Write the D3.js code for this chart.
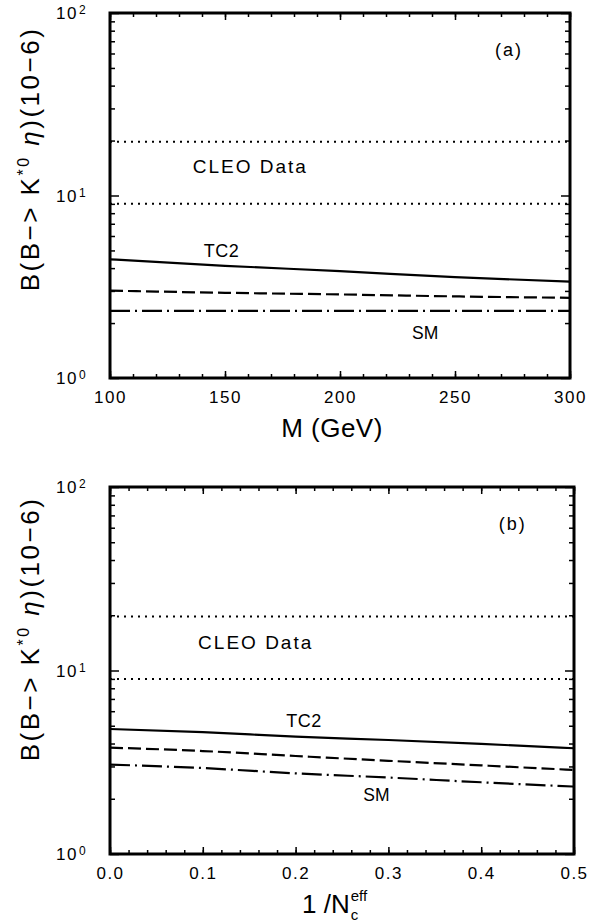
<!DOCTYPE html>
<html>
<head>
<meta charset="utf-8">
<script src="https://cdn.jsdelivr.net/npm/d3@7"></script>
<style>
  body { margin: 0; background: #fff; }
  text { font-family: "Liberation Sans", Arial, sans-serif; fill: #000; font-weight: normal; }
</style>
</head>
<body>
<div id="chart"></div>
<script>
// panel (a): vs M (GeV)
var massGeV = [100, 150, 200, 250, 300]
var tc2M    = [4.47, 4.12, 3.85, 3.57, 3.37]
var dashM   = [3.01, 2.93, 2.87, 2.80, 2.75]
var smM     = [2.33, 2.33, 2.33, 2.33, 2.33]

// panel (b): vs 1/Nc_eff
var invNc   = [0, 0.1, 0.2, 0.3, 0.4, 0.5]
var tc2N    = [4.80, 4.61, 4.36, 4.18, 3.98, 3.77]
var dashN   = [3.80, 3.64, 3.42, 3.22, 3.04, 2.87]
var smN     = [3.07, 2.94, 2.75, 2.61, 2.46, 2.33]

// CLEO band (upper, lower)
var cleo = [19.7, 9.0]

var massTicks = [100, 150, 200, 250, 300]
var nTicks = [0, 0.1, 0.2, 0.3, 0.4, 0.5]
var yTickExp = [0, 1, 2]

var svg = d3.select('#chart').append('svg')
  .attr('width', 610)
  .attr('height', 924)

function drawPanel(p) {
  var x = d3.scaleLinear().domain(p.xDomain).range([p.left, p.right])
  var y = d3.scaleLog().domain([1, 100]).range([p.bottom, p.top])
  var g = svg.append('g')

  var line = (ys) => d3.line()
    .x((d, i) => x(p.xs[i]))
    .y((d) => y(d))
    .curve(d3.curveMonotoneX)(ys)

  // CLEO dotted lines
  cleo.forEach((v) => {
    g.append('line')
      .attr('x1', p.left).attr('x2', p.right)
      .attr('y1', y(v)).attr('y2', y(v))
      .attr('stroke', '#000').attr('stroke-width', 2)
      .attr('stroke-dasharray', '2,5')
  })

  var styles = [
    {data: p.tc2, dash: null},
    {data: p.dash, dash: '13,5'},
    {data: p.sm, dash: '20,5,2,5'}
  ]
  styles.forEach((s) => {
    g.append('path')
      .attr('d', line(s.data))
      .attr('fill', 'none')
      .attr('stroke', '#000')
      .attr('stroke-width', 2.2)
      .attr('stroke-dasharray', s.dash)
  })

  // ticks, all inward
  var minorX = d3.range(p.xDomain[0], p.xDomain[1] + p.minorStep / 2, p.minorStep)
  var minorY = []
  ;[1, 10].forEach((b) => { for (var k = 2; k <= 9; k++) minorY.push(b * k) })
  var majorY = yTickExp.map((e) => Math.pow(10, e))

  function tickStyle(sel) {
    sel.attr('font-family', null).attr('font-size', null)
    sel.select('.domain').remove()
    sel.selectAll('line').attr('stroke-width', 1.5)
    sel.selectAll('text')
      .style('font-size', '17px')
      .style('letter-spacing', '1.5px')
      .attr('fill', '#000')
  }

  g.append('g').attr('transform', 'translate(0,' + p.bottom + ')')
    .call(d3.axisBottom(x).tickValues(minorX).tickSize(-4).tickFormat('')).call(tickStyle)
  g.append('g').attr('transform', 'translate(0,' + p.bottom + ')')
    .call(d3.axisBottom(x).tickValues(p.majorX).tickSize(-7).tickPadding(13).tickFormat(p.fmt)).call(tickStyle)
  g.append('g').attr('transform', 'translate(0,' + p.top + ')')
    .call(d3.axisTop(x).tickValues(minorX).tickSize(-4).tickFormat('')).call(tickStyle)
  g.append('g').attr('transform', 'translate(0,' + p.top + ')')
    .call(d3.axisTop(x).tickValues(p.majorX).tickSize(-7).tickFormat('')).call(tickStyle)

  g.append('g').attr('transform', 'translate(' + p.left + ',0)')
    .call(d3.axisLeft(y).tickValues(minorY).tickSize(-5).tickFormat('')).call(tickStyle)
  g.append('g').attr('transform', 'translate(' + p.left + ',0)')
    .call(d3.axisLeft(y).tickValues(majorY).tickSize(-9).tickFormat('')).call(tickStyle)
  g.append('g').attr('transform', 'translate(' + p.right + ',0)')
    .call(d3.axisRight(y).tickValues(minorY).tickSize(-5).tickFormat('')).call(tickStyle)
  g.append('g').attr('transform', 'translate(' + p.right + ',0)')
    .call(d3.axisRight(y).tickValues(majorY).tickSize(-9).tickFormat('')).call(tickStyle)

  // y tick labels 10^n
  yTickExp.forEach((e) => {
    var yy = y(Math.pow(10, e))
    g.append('text')
      .attr('x', p.left - 32).attr('y', yy + 6)
      .attr('text-anchor', 'end')
      .style('font-size', '17px').style('letter-spacing', '1.5px')
      .text('10')
    g.append('text')
      .attr('x', p.left - 31).attr('y', yy + 1)
      .style('font-size', '12px')
      .text(e)
  })

  // frame
  g.append('rect')
    .attr('x', p.left).attr('y', p.top)
    .attr('width', p.right - p.left).attr('height', p.bottom - p.top)
    .attr('fill', 'none').attr('stroke', '#000').attr('stroke-width', 3)

  // y title
  var yt = g.append('text')
    .attr('transform', 'translate(39,' + p.titleY + ') rotate(-90)')
    .attr('text-anchor', 'middle')
    .style('font-size', '26px').style('letter-spacing', '2.5px')
  yt.append('tspan').text('B(B\u2212> K')
  yt.append('tspan').attr('dy', -10).style('font-size', '16px').text('*0')
  yt.append('tspan').attr('dy', 10).style('font-style', 'italic').text(' \u03b7')
  yt.append('tspan').text(')(10\u22126)')

  // x title
  p.xTitle(g)

  // annotations
  p.notes.forEach((n) => {
    g.append('text')
      .attr('x', x(n[0])).attr('y', y(n[1]))
      .attr('text-anchor', 'middle')
      .style('font-size', n[3] + 'px')
      .style('letter-spacing', n[4] + 'px')
      .text(n[2])
  })
}

drawPanel({
  left: 110, right: 570, top: 13, bottom: 378,
  xDomain: [100, 300], minorStep: 10, majorX: massTicks, fmt: d3.format('d'),
  xs: massGeV, tc2: tc2M, dash: dashM, sm: smM,
  titleY: 159,
  xTitle: (g) => {
    g.append('text').attr('x', 332).attr('y', 437)
      .attr('text-anchor', 'middle')
      .style('font-size', '26px').style('letter-spacing', '0.5px')
      .text('M (GeV)')
  },
  notes: [
    [161, 13.27, 'CLEO Data', 19, 2],
    [148.5, 4.60, 'TC2', 18, 0.5],
    [237, 1.64, 'SM', 17.5, 0],
    [273.5, 58.1, '(a)', 18, 2]
  ]
})

drawPanel({
  left: 110, right: 574, top: 487, bottom: 854,
  xDomain: [0, 0.5], minorStep: 0.02, majorX: nTicks, fmt: d3.format('.1f'),
  xs: invNc, tc2: tc2N, dash: dashN, sm: smN,
  titleY: 629,
  xTitle: (g) => {
    var t = g.append('text').attr('x', 302).attr('y', 913)
      .style('font-size', '26px')
      .text('1 /N')
    var x1 = 302 + t.node().getComputedTextLength() + 1
    g.append('text').attr('x', x1).attr('y', 920)
      .style('font-size', '15px').text('c')
    g.append('text').attr('x', x1).attr('y', 901)
      .style('font-size', '15px').text('eff')
  },
  notes: [
    [0.157, 13.1, 'CLEO Data', 19, 2],
    [0.209, 4.92, 'TC2', 18, 0.5],
    [0.287, 1.94, 'SM', 17.5, 0],
    [0.434, 58.3, '(b)', 18, 2]
  ]
})
</script>
</body>
</html>
